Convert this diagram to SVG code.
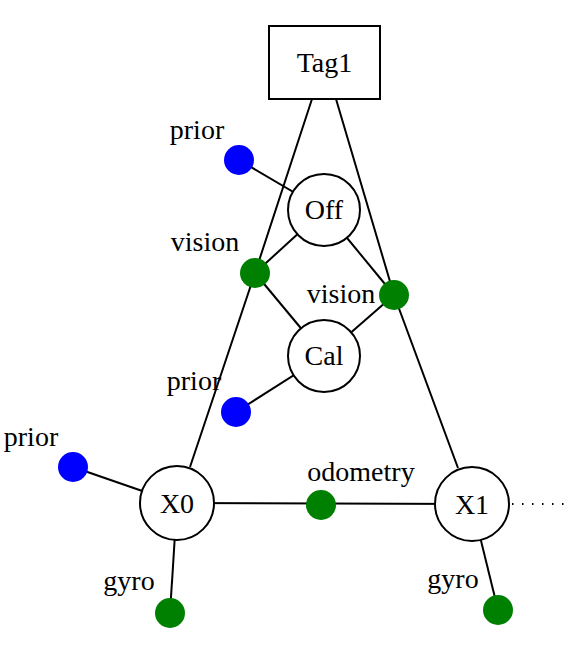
<svg xmlns="http://www.w3.org/2000/svg" width="565" height="653" viewBox="0 0 565 653">
<style>
.e{stroke:#000;stroke-width:2;fill:none}
.v{fill:#fff;stroke:#000;stroke-width:2}
.t{font-family:"Liberation Serif","Times New Roman",serif;font-size:28px;fill:#000}
.m{text-anchor:middle}
.b{fill:#0000ff}
.g{fill:#008000}
</style>
<rect width="565" height="653" fill="#fff"/>
<g id="connectors">
<polyline class="e" points="312,99 255,273 190,467"/>
<polyline class="e" points="336,99 394,295 458,468"/>
<line class="e" x1="239" y1="160" x2="324" y2="210"/>
<line class="e" x1="255" y1="273" x2="324" y2="210"/>
<line class="e" x1="394" y1="295" x2="324" y2="210"/>
<line class="e" x1="255" y1="273" x2="324" y2="356"/>
<line class="e" x1="394" y1="295" x2="324" y2="356"/>
<line class="e" x1="236" y1="412" x2="324" y2="356"/>
<line class="e" x1="73" y1="467" x2="177" y2="503"/>
<line class="e" x1="177" y1="503" x2="472" y2="504"/>
<line class="e" x1="177" y1="503" x2="170" y2="613"/>
<line class="e" x1="472" y1="504" x2="498" y2="610"/>
<line x1="512" y1="504" x2="565" y2="504" stroke="#000" stroke-width="2" stroke-dasharray="1.5,8.5"/>
</g>
<g id="Tag1"><rect class="v" x="269" y="26" width="111" height="73"/><text class="t m" x="324.5" y="72">Tag1</text></g>
<g id="Off"><circle class="v" cx="324" cy="210" r="36"/><text class="t m" x="324" y="219">Off</text></g>
<g id="Cal"><circle class="v" cx="324" cy="356" r="36"/><text class="t m" x="324" y="365">Cal</text></g>
<g id="X0"><circle class="v" cx="177" cy="503" r="37"/><text class="t m" x="177" y="513">X0</text></g>
<g id="X1"><circle class="v" cx="472" cy="504" r="37"/><text class="t m" x="472" y="514">X1</text></g>
<g id="prior1"><circle class="b" cx="239" cy="160" r="15"/><text class="t m" x="197" y="139">prior</text></g>
<g id="vision1"><circle class="g" cx="255" cy="273" r="15"/><text class="t m" x="205" y="251">vision</text></g>
<g id="vision2"><circle class="g" cx="394" cy="295" r="15"/><text class="t m" x="341" y="303">vision</text></g>
<g id="prior2"><circle class="b" cx="236" cy="412" r="15"/><text class="t m" x="194" y="390">prior</text></g>
<g id="prior3"><circle class="b" cx="73" cy="467" r="15"/><text class="t m" x="31" y="446">prior</text></g>
<g id="odometry"><circle class="g" cx="321" cy="505" r="15"/><text class="t m" x="361" y="481">odometry</text></g>
<g id="gyro0"><circle class="g" cx="170" cy="613" r="15"/><text class="t m" x="129" y="590">gyro</text></g>
<g id="gyro1"><circle class="g" cx="498" cy="610" r="15"/><text class="t m" x="453" y="588">gyro</text></g>
</svg>
